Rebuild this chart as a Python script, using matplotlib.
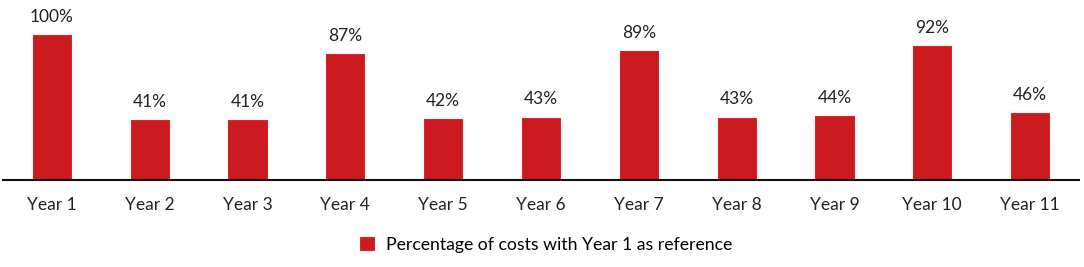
import matplotlib
matplotlib.use("Agg")
import matplotlib.pyplot as plt

years = ["Year 1", "Year 2", "Year 3", "Year 4", "Year 5", "Year 6",
         "Year 7", "Year 8", "Year 9", "Year 10", "Year 11"]
pct = [100, 41, 41, 87, 42, 43, 89, 43, 44, 92, 46]

plt.rcParams["font.family"] = ["Lato", "DejaVu Sans"]

fig = plt.figure(figsize=(10.84, 2.67), dpi=100)
ax = fig.add_axes([3 / 1084, 87 / 267, 1076 / 1084, 180 / 267])

red = "#CC1A21"
x = list(range(len(years)))
bars = ax.bar(x, pct, width=0.39, color=red, edgecolor="#D8262C", linewidth=0.8,
              label="Percentage of costs with Year 1 as reference")

for xi, v in zip(x, pct):
    ax.text(xi, v + 7, f"{v}%", ha="center", va="bottom", fontsize=12.5, color="#222222")

ax.set_xlim(-0.5, len(years) - 0.5)
ax.set_ylim(0, 124)
ax.set_xticks(x)
ax.set_xticklabels(years, fontsize=12.5, color="#222222")
ax.tick_params(axis="x", length=0, pad=12)
ax.set_yticks([])
for s in ["top", "left", "right"]:
    ax.spines[s].set_visible(False)
ax.spines["bottom"].set_linewidth(1.5)
ax.spines["bottom"].set_color("#111111")

fig.legend(handles=[bars], labels=["Percentage of costs with Year 1 as reference"],
           loc="center", bbox_to_anchor=(0.504, 22 / 267), frameon=False,
           fontsize=12.7, handlelength=0.75, handleheight=0.75, handletextpad=0.7)

fig.savefig("out.png", dpi=100)
